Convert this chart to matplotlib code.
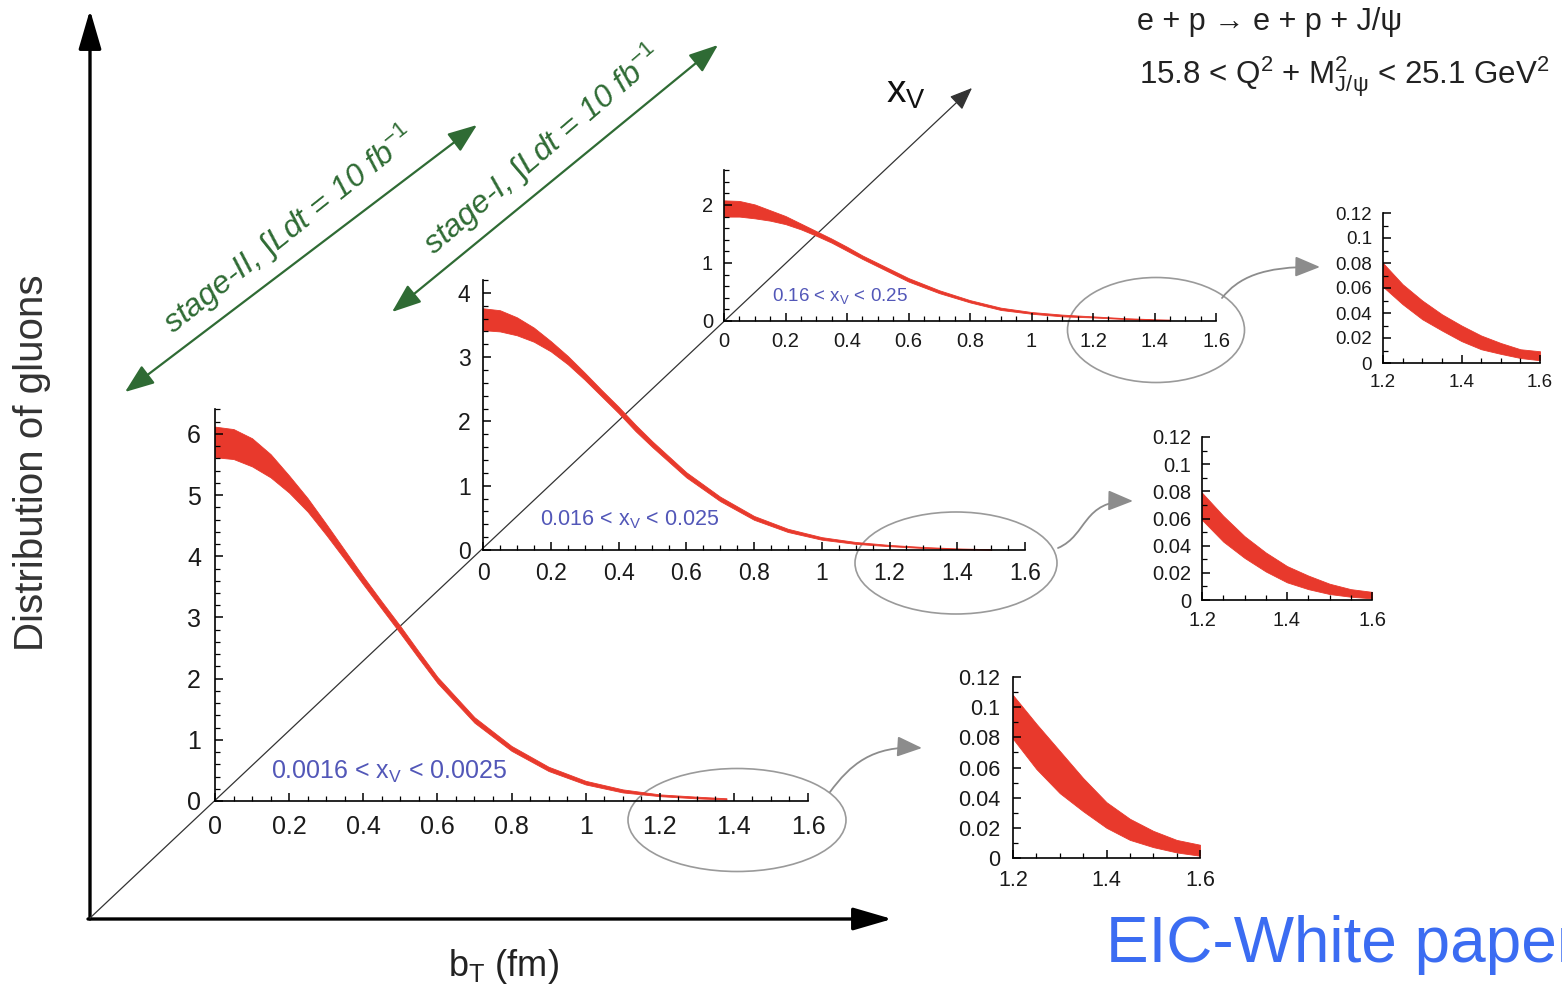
import numpy as np
import matplotlib.pyplot as plt
from matplotlib.patches import Ellipse, FancyArrowPatch
from matplotlib.path import Path
from matplotlib.ticker import MultipleLocator, FuncFormatter

plt.rcParams['font.family'] = ['Liberation Sans', 'DejaVu Sans']
plt.rcParams['mathtext.fontset'] = 'custom'
plt.rcParams['mathtext.rm'] = 'Liberation Sans'
plt.rcParams['mathtext.it'] = 'Liberation Sans:italic'

W, H = 1562, 991

# main panels: b_T (fm) and lower / upper edge of the band
bt_low = [0.0, 0.05, 0.1, 0.15, 0.2, 0.25, 0.3, 0.35, 0.4, 0.45, 0.5, 0.55, 0.6,
          0.7, 0.8, 0.9, 1.0, 1.1, 1.2, 1.3, 1.38]
low_lo = [5.62, 5.59, 5.47, 5.29, 5.04, 4.73, 4.35, 3.95, 3.54, 3.14, 2.74, 2.33, 1.93,
          1.28, 0.82, 0.49, 0.27, 0.14, 0.079, 0.043, 0.025]
low_hi = [6.12, 6.08, 5.93, 5.67, 5.32, 4.95, 4.53, 4.10, 3.67, 3.26, 2.86, 2.44, 2.03,
          1.37, 0.90, 0.56, 0.33, 0.19, 0.108, 0.071, 0.045]

bt_mid = [0.0, 0.05, 0.1, 0.15, 0.2, 0.25, 0.3, 0.35, 0.4, 0.45, 0.5,
          0.6, 0.7, 0.8, 0.9, 1.0, 1.1, 1.2, 1.3, 1.4, 1.5]
mid_lo = [3.42, 3.40, 3.34, 3.24, 3.09, 2.89, 2.65, 2.39, 2.13, 1.85, 1.60,
          1.13, 0.76, 0.47, 0.28, 0.16, 0.095, 0.059, 0.031, 0.013, 0.004]
mid_hi = [3.76, 3.73, 3.62, 3.46, 3.25, 3.02, 2.76, 2.49, 2.23, 1.95, 1.69,
          1.21, 0.83, 0.53, 0.33, 0.20, 0.125, 0.079, 0.047, 0.025, 0.012]

bt_top = [0.0, 0.05, 0.1, 0.15, 0.2, 0.25, 0.3, 0.35, 0.4, 0.45, 0.5,
          0.6, 0.7, 0.8, 0.9, 1.0, 1.1, 1.2, 1.3, 1.4, 1.45]
top_lo = [1.80, 1.80, 1.77, 1.73, 1.67, 1.58, 1.47, 1.35, 1.21, 1.07, 0.94,
          0.68, 0.48, 0.32, 0.19, 0.125, 0.08, 0.061, 0.035, 0.018, 0.013]
top_hi = [2.08, 2.07, 2.01, 1.91, 1.81, 1.68, 1.55, 1.42, 1.28, 1.13, 1.00,
          0.74, 0.53, 0.36, 0.23, 0.155, 0.11, 0.080, 0.05, 0.030, 0.024]

# zoomed tails 1.2 - 1.6 fm
bt_tail = [1.2, 1.25, 1.3, 1.35, 1.4, 1.45, 1.5, 1.55, 1.6]
tail_low_lo = [0.079, 0.059, 0.043, 0.031, 0.020, 0.012, 0.0072, 0.0037, 0.0015]
tail_low_hi = [0.108, 0.089, 0.071, 0.053, 0.037, 0.026, 0.018, 0.012, 0.0088]
tail_mid_lo = [0.059, 0.043, 0.031, 0.021, 0.013, 0.008, 0.0044, 0.0024, 0.0012]
tail_mid_hi = [0.079, 0.062, 0.047, 0.035, 0.025, 0.018, 0.012, 0.008, 0.006]
tail_top_lo = [0.061, 0.047, 0.035, 0.026, 0.0175, 0.011, 0.0073, 0.004, 0.0022]
tail_top_hi = [0.080, 0.063, 0.050, 0.039, 0.030, 0.022, 0.016, 0.011, 0.0094]

RED = '#e8392c'
LABEL = '#5257b8'
fmt = FuncFormatter(lambda v, p: f'{v:g}')

fig = plt.figure(figsize=(W / 100, H / 100), dpi=100)
bg = fig.add_axes([0, 0, 1, 1])
bg.set_xlim(0, W)
bg.set_ylim(H, 0)
bg.axis('off')


def arrow(p0, p1, style, ms, lw, color):
    bg.add_patch(FancyArrowPatch(p0, p1, arrowstyle=style, mutation_scale=ms, lw=lw,
                                 color=color, shrinkA=0, shrinkB=0))


def curved(pts):
    path = Path(pts, [Path.MOVETO, Path.CURVE4, Path.CURVE4, Path.CURVE4])
    bg.add_patch(FancyArrowPatch(path=path, arrowstyle='-|>,head_length=1.1,head_width=0.45',
                                 mutation_scale=14, lw=1.3, color='#8c8c8c'))


# big axes
arrow((90, 919), (90, 10), '-|>,head_length=1.2,head_width=0.35', 20, 2.4, 'black')
arrow((88, 919), (892, 919), '-|>,head_length=1.2,head_width=0.35', 20, 2.4, 'black')
arrow((90, 918), (972, 88), '-|>,head_length=1.0,head_width=0.4', 14, 0.9, '#333333')

# luminosity arrows
GREEN = '#2f6b34'
arrow((125, 392), (477, 125), '<|-|>,head_length=1.0,head_width=0.38', 18, 1.6, GREEN)
arrow((392, 312), (718, 45), '<|-|>,head_length=1.0,head_width=0.38', 18, 1.6, GREEN)
bg.text(289, 230, r'stage-II, $\int$Ldt = 10 fb$^{\mathit{-1}}$', rotation=38.5, rotation_mode='anchor',
        ha='center', va='center', fontsize=23, style='italic', color=GREEN)
bg.text(543, 150, r'stage-I, $\int$Ldt = 10 fb$^{\mathit{-1}}$', rotation=40.5, rotation_mode='anchor',
        ha='center', va='center', fontsize=23, style='italic', color=GREEN)

bg.text(906, 93, r'x$_\mathregular{V}$', fontsize=28, ha='center', va='center', color='#111111')
bg.text(1137, 22, 'e + p → e + p + J/ψ', fontsize=22, ha='left', va='center', color='#222222')
bg.text(1139, 77, r'15.8 < Q$^2$ + M$^2_{\mathregular{J/ψ}}$ < 25.1 GeV$^2$', fontsize=22.5,
        ha='left', va='center', color='#222222')
bg.text(32, 463, 'Distribution of gluons', rotation=90, fontsize=29, ha='center', va='center',
        color='#333333')
bg.text(503, 967, r'b$_\mathregular{T}$ (fm)', fontsize=26, ha='center', va='center', color='#222222')
bg.text(1106, 945, 'EIC-White paper', fontsize=46, ha='left', va='center', color='#3b6cf2')

# ellipses and pointers
for c, w, h in [((737, 820), 218, 103), ((956, 563), 202, 102), ((1156, 330), 177, 105)]:
    bg.add_patch(Ellipse(c, w, h, fill=False, ec='#9a9a9a', lw=1.2))
curved([(830, 792), (850, 765), (872, 745), (922, 748)])
curved([(1058, 548), (1088, 535), (1082, 500), (1133, 501)])
curved([(1222, 298), (1238, 278), (1262, 266), (1320, 267)])

# x_V range labels
bg.text(271, 772, r'0.0016 < x$_\mathregular{V}$ < 0.0025', fontsize=18, color=LABEL, va='center')
bg.text(540, 520, r'0.016 < x$_\mathregular{V}$ < 0.025', fontsize=15.5, color=LABEL, va='center')
bg.text(772, 296, r'0.16 < x$_\mathregular{V}$ < 0.25', fontsize=13.5, color=LABEL, va='center')


def panel(x0, x1, y0, y1, xlim, ylim, xmaj, xmin, ymaj, ymin, fs, pad):
    ax = fig.add_axes([x0 / W, 1 - y0 / H, (x1 - x0) / W, (y0 - y1) / H])
    ax.patch.set_alpha(0)
    ax.spines['top'].set_visible(False)
    ax.spines['right'].set_visible(False)
    ax.spines['left'].set_linewidth(1.2)
    ax.spines['bottom'].set_linewidth(1.2)
    ax.set_xlim(*xlim)
    ax.set_ylim(*ylim)
    ax.xaxis.set_major_locator(MultipleLocator(xmaj))
    ax.xaxis.set_minor_locator(MultipleLocator(xmin))
    ax.yaxis.set_major_locator(MultipleLocator(ymaj))
    ax.yaxis.set_minor_locator(MultipleLocator(ymin))
    ax.xaxis.set_major_formatter(fmt)
    ax.yaxis.set_major_formatter(fmt)
    ax.tick_params(which='both', direction='in', color='black')
    ax.tick_params(which='major', length=6, width=1.1, labelsize=fs, pad=pad, labelcolor='#1a1a1a')
    ax.tick_params(which='minor', length=3.5, width=0.9)
    return ax


a1 = panel(215, 808, 801, 409.5, (0, 1.6), (0, 6.4), 0.2, 0.05, 1, 0.2, 18, 10)
a1.fill_between(bt_low, low_lo, low_hi, color=RED, lw=0.6, ec=RED)

a2 = panel(483, 1025, 550, 280, (0, 1.6), (0, 4.2), 0.2, 0.05, 1, 0.2, 16.5, 9)
a2.fill_between(bt_mid, mid_lo, mid_hi, color=RED, lw=0.6, ec=RED)

a3 = panel(724, 1216, 321, 170.2, (0, 1.6), (0, 2.6), 0.2, 0.05, 1, 0.2, 14.5, 8)
a3.fill_between(bt_top, top_lo, top_hi, color=RED, lw=0.6, ec=RED)

b1 = panel(1013, 1200, 858, 677, (1.2, 1.6), (0, 0.12), 0.2, 0.05, 0.02, 0.01, 15.5, 9)
b1.fill_between(bt_tail, tail_low_lo, tail_low_hi, color=RED, lw=0.6, ec=RED)

b2 = panel(1202, 1372, 600, 437, (1.2, 1.6), (0, 0.12), 0.2, 0.05, 0.02, 0.01, 14.5, 8)
b2.fill_between(bt_tail, tail_mid_lo, tail_mid_hi, color=RED, lw=0.6, ec=RED)

b3 = panel(1383, 1540, 363, 213, (1.2, 1.6), (0, 0.12), 0.2, 0.05, 0.02, 0.01, 13.5, 8)
b3.fill_between(bt_tail, tail_top_lo, tail_top_hi, color=RED, lw=0.6, ec=RED)

fig.savefig('out.png', dpi=100)
